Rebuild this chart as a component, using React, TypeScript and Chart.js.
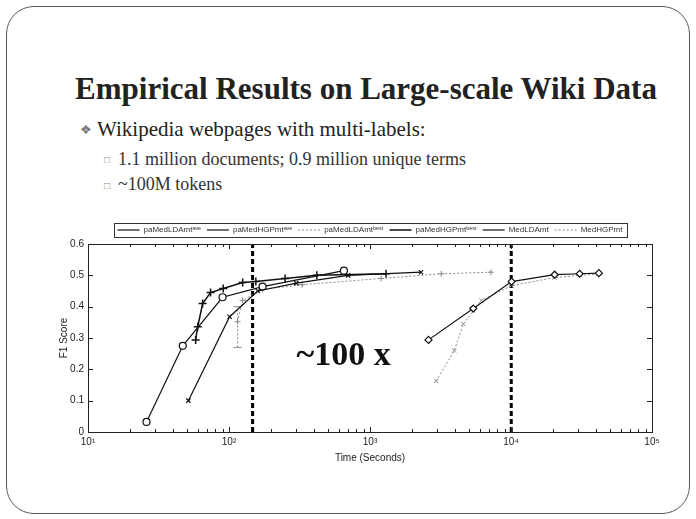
import React, { useEffect, useRef } from "react";
import { Chart, registerables } from "chart.js";
Chart.register(...registerables);

// ---- data (time in seconds, F1 score) ----
const seriesNames = [
  "paMedLDAmt\u1D43\u1D5B\u1D49",
  "paMedHGPmt\u1D43\u1D5B\u1D49",
  "paMedLDAmt\u1D47\u1D49\u02E2\u1D57",
  "paMedHGPmt\u1D47\u1D49\u02E2\u1D57",
  "MedLDAmt",
  "MedHGPmt",
];
const paLDAaveT = [51.5, 101, 160, 300, 700, 2300];
const paLDAaveF = [0.1, 0.368, 0.45, 0.475, 0.5, 0.51];
const paHGPaveT = [26, 47, 90, 173, 653];
const paHGPaveF = [0.032, 0.275, 0.43, 0.464, 0.515];
const paLDAbestT = [115, 125, 173, 330, 1200, 3200, 7200];
const paLDAbestF = [0.352, 0.42, 0.455, 0.47, 0.49, 0.505, 0.51];
const paHGPbestT = [58, 60, 65, 74, 91, 125, 155, 250, 420, 1300];
const paHGPbestF = [0.294, 0.336, 0.41, 0.445, 0.458, 0.477, 0.48, 0.49, 0.5, 0.505];
const medLDAT = [2600, 5400, 10100, 20400, 30700, 42000];
const medLDAF = [0.294, 0.394, 0.48, 0.502, 0.505, 0.507];
const medHGPT = [2950, 3960, 4590, 6170, 10100, 20400, 30700, 42000];
const medHGPF = [0.163, 0.26, 0.345, 0.42, 0.467, 0.493, 0.5, 0.505];
const errBarT = [115, 115];
const errBarF = [0.27, 0.4];
const speedupLines = [147, 10040];
const yTicks = [0, 0.1, 0.2, 0.3, 0.4, 0.5, 0.6];
const xMajor = [10, 100, 1000, 10000, 100000];
const supDigits = ["\u2070", "\u00B9", "\u00B2", "\u00B3", "\u2074", "\u2075"];
const annotation = { text: "~100 x", t: 650, f: 0.243 };

const pts = (t: number[], f: number[]) => t.map((v, i) => ({ x: v, y: f[i] }));

const boxAndTicks = {
  id: "boxAndTicks",
  afterLayout(chart: any) {
    const lg = chart.legend;
    if (lg) {
      const shift = 15;
      lg.left += shift;
      lg.right += shift;
    }
  },
  afterDraw(chart: any) {
    const { ctx, chartArea: a, scales } = chart;
    ctx.save();
    ctx.strokeStyle = "#222";
    ctx.lineWidth = 1;
    ctx.setLineDash([]);
    ctx.strokeRect(a.left + 0.5, a.top + 0.5, a.right - a.left, a.bottom - a.top);
    const xs = scales.x;
    ctx.beginPath();
    for (let d = 1; d < 5; d++) {
      for (let m = 1; m <= 9; m++) {
        const v = m * Math.pow(10, d);
        const px = Math.round(xs.getPixelForValue(v)) + 0.5;
        const len = m === 1 ? 5 : 3;
        ctx.moveTo(px, a.bottom);
        ctx.lineTo(px, a.bottom - len);
        ctx.moveTo(px, a.top);
        ctx.lineTo(px, a.top + len);
      }
    }
    const ys = scales.y;
    yTicks.forEach((v) => {
      const py = Math.round(ys.getPixelForValue(v)) + 0.5;
      ctx.moveTo(a.left, py);
      ctx.lineTo(a.left + 5, py);
      ctx.moveTo(a.right, py);
      ctx.lineTo(a.right - 5, py);
    });
    ctx.stroke();
    // annotation text
    ctx.fillStyle = "#111";
    ctx.font = "bold 34px 'Liberation Serif', serif";
    ctx.textAlign = "center";
    ctx.textBaseline = "middle";
    ctx.fillText(annotation.text, xs.getPixelForValue(annotation.t), ys.getPixelForValue(annotation.f));
    // legend frame
    const lg = chart.legend;
    if (lg && lg.legendHitBoxes && lg.legendHitBoxes.length) {
      const hb = lg.legendHitBoxes;
      const l = Math.min(...hb.map((h: any) => h.left)) - 4;
      const r = Math.max(...hb.map((h: any) => h.left + h.width)) + 4;
      const t = Math.min(...hb.map((h: any) => h.top)) - 3;
      const b = Math.max(...hb.map((h: any) => h.top + h.height)) + 3;
      ctx.strokeStyle = "#333";
      ctx.strokeRect(Math.round(l) + 0.5, Math.round(t) + 0.5, Math.round(r - l), Math.round(b - t));
    }
    ctx.restore();
  },
};

export default function App() {
  const ref = useRef<HTMLCanvasElement>(null);
  useEffect(() => {
    if (!ref.current) return;
    const solid = "#111";
    const grey = "#8a8a8a";
    const chart = new Chart(ref.current, {
      type: "line",
      data: {
        datasets: [
          { label: seriesNames[0], data: pts(paLDAaveT, paLDAaveF), borderColor: solid, borderWidth: 1.2, pointStyle: "crossRot", pointRadius: 3, pointBorderColor: solid },
          { label: seriesNames[1], data: pts(paHGPaveT, paHGPaveF), borderColor: solid, borderWidth: 1.2, pointStyle: "circle", pointRadius: 3.5, pointBackgroundColor: "#fff", pointBorderColor: solid },
          { label: seriesNames[2], data: pts(paLDAbestT, paLDAbestF), borderColor: grey, borderWidth: 1, borderDash: [2, 2], pointStyle: "cross", pointRadius: 3, pointBorderColor: grey },
          { label: seriesNames[3], data: pts(paHGPbestT, paHGPbestF), borderColor: solid, borderWidth: 1.5, pointStyle: "cross", pointRadius: 4, pointBorderColor: solid },
          { label: seriesNames[4], data: pts(medLDAT, medLDAF), borderColor: solid, borderWidth: 1.2, pointStyle: "rectRot", pointRadius: 3.5, pointBackgroundColor: "#fff", pointBorderColor: solid },
          { label: seriesNames[5], data: pts(medHGPT, medHGPF), borderColor: grey, borderWidth: 1, borderDash: [2, 2], pointStyle: "crossRot", pointRadius: 3, pointBorderColor: grey },
          { label: "_err", data: pts(errBarT, errBarF), borderColor: grey, borderWidth: 1, borderDash: [2, 2], pointStyle: "line", pointRadius: 4, pointBorderColor: grey },
          ...speedupLines.map((t) => ({
            label: "_vline",
            data: [{ x: t, y: 0 }, { x: t, y: 0.6 }],
            borderColor: "#000",
            borderWidth: 3,
            borderDash: [5, 3],
            pointRadius: 0,
          })),
        ] as any,
      },
      options: {
        animation: false,
        responsive: false,
        maintainAspectRatio: false,
        layout: { padding: { left: 0, right: 34, top: 2, bottom: 0 } },
        plugins: {
          tooltip: { enabled: false },
          legend: {
            position: "top",
            labels: {
              filter: (item: any) => !String(item.text).startsWith("_"),
              usePointStyle: true,
              pointStyleWidth: 22,
              boxHeight: 6,
              padding: 6,
              color: "#333",
              font: { family: "'Liberation Sans', Arial, sans-serif", size: 8 },
              generateLabels: (chart: any) =>
                chart.data.datasets.map((ds: any, i: number) => ({
                  text: ds.label,
                  datasetIndex: i,
                  pointStyle: "line",
                  strokeStyle: ds.borderColor,
                  fillStyle: ds.borderColor,
                  lineWidth: ds.borderWidth,
                  lineDash: ds.borderDash || [],
                  fontColor: "#333",
                })),
            },
          },
        },
        scales: {
          x: {
            type: "logarithmic",
            min: 10,
            max: 100000,
            grid: { display: false, drawTicks: false },
            border: { display: false },
            ticks: {
              autoSkip: false,
              maxRotation: 0,
              padding: 4,
              color: "#222",
              font: { family: "'Liberation Sans', Arial, sans-serif", size: 10 },
              callback: (v: any) => {
                const k = xMajor.indexOf(Number(v));
                return k >= 0 ? "10" + supDigits[k + 1] : "";
              },
            },
            title: { display: true, text: "Time (Seconds)", color: "#222", padding: { top: 0, bottom: 0 }, font: { family: "'Liberation Sans', Arial, sans-serif", size: 10 } },
          },
          y: {
            min: 0,
            max: 0.6,
            grid: { display: false, drawTicks: false },
            border: { display: false },
            afterFit: (s: any) => { s.width = 30; },
            ticks: {
              stepSize: 0.1,
              padding: 4,
              color: "#222",
              font: { family: "'Liberation Sans', Arial, sans-serif", size: 10 },
              callback: (v: any) => (Number(v) === 0 ? "0" : Number(v).toFixed(1)),
            },
            title: { display: true, text: "F1 Score", color: "#222", padding: 0, font: { family: "'Liberation Sans', Arial, sans-serif", size: 10 } },
          },
        },
      },
      plugins: [boxAndTicks],
    } as any);
    return () => chart.destroy();
  }, []);

  const serif = "'Liberation Serif', 'DejaVu Serif', serif";
  return (
    <div style={{ position: "absolute", left: 0, top: 0, width: 696, height: 519, background: "#fff", overflow: "hidden", fontFamily: serif }}>
      <div style={{ position: "absolute", left: 6, top: 6, width: 682, height: 506, border: "1px solid #555", borderRadius: 28 }} />
      <div style={{ position: "absolute", left: 0, width: 732, top: 73, fontSize: 31, lineHeight: "31px", fontWeight: "bold", textAlign: "center", color: "#222" }}>
        Empirical Results on Large-scale Wiki Data
      </div>
      <div style={{ position: "absolute", left: 80, top: 123, fontSize: 13, lineHeight: "13px", color: "#777" }}>❖</div>
      <div style={{ position: "absolute", left: 97, top: 119, fontSize: 21, lineHeight: "21px", color: "#222" }}>
        Wikipedia webpages with multi-labels:
      </div>
      <div style={{ position: "absolute", left: 104, top: 155, fontSize: 10, lineHeight: "10px", color: "#888" }}>□</div>
      <div style={{ position: "absolute", left: 118, top: 150, fontSize: 18, lineHeight: "18px", color: "#333" }}>
        1.1 million documents; 0.9 million unique terms
      </div>
      <div style={{ position: "absolute", left: 104, top: 181, fontSize: 10, lineHeight: "10px", color: "#888" }}>□</div>
      <div style={{ position: "absolute", left: 118, top: 175, fontSize: 18, lineHeight: "18px", color: "#333" }}>
        ~100M tokens
      </div>
      <canvas ref={ref} width={628} height={246} style={{ position: "absolute", left: 58, top: 218, width: 628, height: 246 }} />
    </div>
  );
}
